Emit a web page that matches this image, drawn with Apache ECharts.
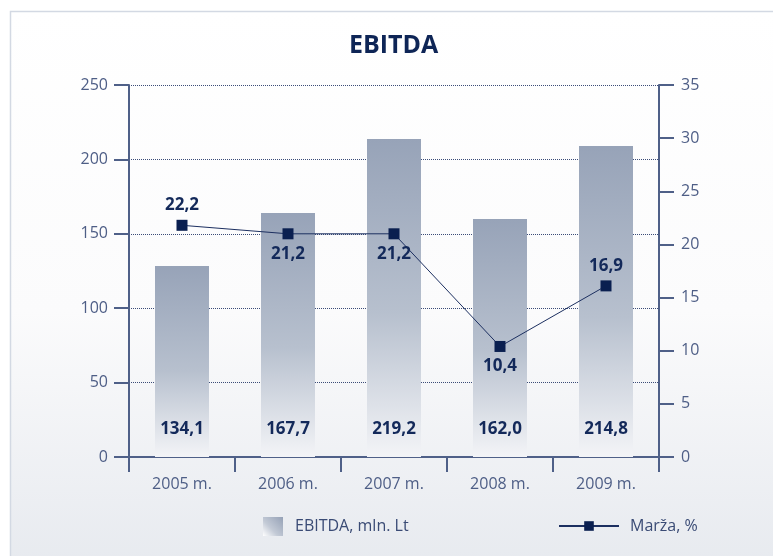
<!DOCTYPE html>
<html lang="lt">

<head>
    <meta charset="UTF-8">
    <title>EBITDA</title>
    <script src="https://cdn.jsdelivr.net/npm/echarts@6.0.0/dist/echarts.min.js"></script>
    <style>
        * {
            margin: 0;
            padding: 0
        }

        html,
        body {
            width: 100%;
            height: 100%;
            background: #fff;
        }

        #main {
            width: 773px;
            height: 556px;
        }
    </style>
</head>

<body>
    <div id="main"></div>
    <script type="text/javascript">
        var years = ['2005 m.', '2006 m.', '2007 m.', '2008 m.', '2009 m.'];
        // bar heights as drawn, and the figures printed on them
        var ebitda = [128.4, 164.0, 213.7, 160.0, 209.0];
        var ebitdaLabels = ['134,1', '167,7', '219,2', '162,0', '214,8'];
        // margin points as drawn, and their printed figures
        var marza = [21.8, 21.0, 21.0, 10.4, 16.1];
        var marzaLabels = ['22,2', '21,2', '21,2', '10,4', '16,9'];
        var marzaLabelPos = ['top', 'bottom', 'bottom', 'bottom', 'top'];

        var navy = '#0e2556';
        var axisColor = '#4f6088';
        var font = '"Open Sans", sans-serif';

        var myChart = echarts.init(document.getElementById('main'));

        var barGradient = new echarts.graphic.LinearGradient(0, 0, 0, 1, [
            { offset: 0, color: '#97a3b8' },
            { offset: 0.55, color: '#b7c0ce' },
            { offset: 1, color: '#f3f4f7' }
        ]);

        var option = {
            graphic: [{
                type: 'rect',
                z: -10,
                shape: { x: 10.5, y: 11.5, width: 800, height: 600 },
                style: {
                    fill: new echarts.graphic.LinearGradient(0, 0, 0, 1, [
                        { offset: 0, color: '#ffffff' },
                        { offset: 0.5, color: '#fbfbfc' },
                        { offset: 0.92, color: '#e7eaef' },
                        { offset: 1, color: '#e5e8ee' }
                    ]),
                    stroke: '#d3d9e3',
                    lineWidth: 1.5
                }
            }],
            title: {
                text: 'EBITDA',
                left: 349,
                top: 33,
                padding: 0,
                textStyle: { fontFamily: font, fontSize: 25, fontWeight: 'bold', color: navy }
            },
            legend: [{
                data: [{
                    name: 'EBITDA, mln. Lt',
                    icon: 'rect',
                    itemStyle: {
                        color: new echarts.graphic.LinearGradient(1, 0, 0, 1, [
                            { offset: 0, color: '#95a1b6' },
                            { offset: 0.6, color: '#c3cad6' },
                            { offset: 1, color: '#ffffff' }
                        ])
                    }
                }],
                left: 263,
                top: 517,
                padding: 0,
                itemWidth: 20,
                itemHeight: 19,
                itemGap: 10,
                textStyle: { fontFamily: font, fontSize: 16, color: '#3a4b75', padding: [3, 0, 0, 7] }
            }, {
                data: ['Marža, %'],
                left: 558,
                top: 518,
                padding: 0,
                itemWidth: 60,
                itemHeight: 12,
                itemGap: 10,
                textStyle: { fontFamily: font, fontSize: 16, color: '#3a4b75', padding: [0, 0, 0, 6] }
            }],
            grid: { left: 129, right: 114, top: 85, bottom: 99 },
            xAxis: {
                type: 'category',
                data: years,
                axisLine: { lineStyle: { color: axisColor, width: 2 } },
                axisTick: { show: true, length: 15, lineStyle: { color: axisColor, width: 2 } },
                axisLabel: { margin: 19, fontFamily: font, fontSize: 16, color: '#4e5e86' }
            },
            yAxis: [{
                type: 'value',
                min: 0,
                max: 250,
                interval: 50,
                axisLine: { show: true, lineStyle: { color: axisColor, width: 2 } },
                axisTick: { show: true, length: 15, lineStyle: { color: axisColor, width: 2 } },
                axisLabel: { margin: 21, fontFamily: font, fontSize: 16, color: '#4e5e86' },
                splitLine: { lineStyle: { color: '#3b4c78', type: 'dotted', width: 1 } }
            }, {
                type: 'value',
                min: 0,
                max: 35,
                interval: 5,
                axisLine: { show: true, lineStyle: { color: axisColor, width: 2 } },
                axisTick: { show: true, length: 15, lineStyle: { color: axisColor, width: 2 } },
                axisLabel: { margin: 22, fontFamily: font, fontSize: 16, color: '#4e5e86' },
                splitLine: { show: false }
            }],
            series: [{
                name: 'EBITDA, mln. Lt',
                type: 'bar',
                barWidth: 54,
                itemStyle: { color: barGradient },
                label: {
                    show: true,
                    position: 'insideBottom',
                    distance: 19,
                    fontFamily: font,
                    fontSize: 17,
                    fontWeight: 'bold',
                    color: '#13295a',
                    formatter: function (p) { return ebitdaLabels[p.dataIndex]; }
                },
                data: ebitda
            }, {
                name: 'Marža, %',
                type: 'line',
                yAxisIndex: 1,
                symbol: 'rect',
                symbolSize: 11,
                itemStyle: { color: '#0a1f50' },
                lineStyle: { color: '#1c2f60', width: 1 },
                label: {
                    show: true,
                    distance: 6,
                    fontFamily: font,
                    fontSize: 17,
                    fontWeight: 'bold',
                    color: '#13295a',
                    formatter: function (p) { return marzaLabels[p.dataIndex]; }
                },
                data: marza.map(function (v, i) {
                    return { value: v, label: { position: marzaLabelPos[i] } };
                })
            }]
        };

        myChart.setOption(option);
    </script>
</body>

</html>
